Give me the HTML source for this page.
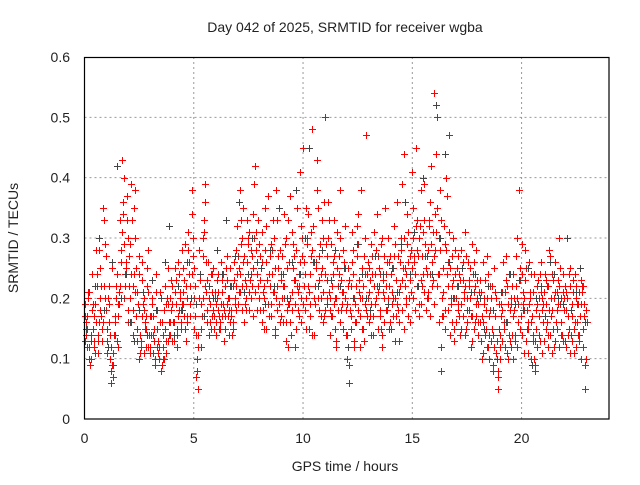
<!DOCTYPE html>
<html><head><meta charset="utf-8"><style>
body{margin:0;background:#fff}
text{font-family:"Liberation Sans",sans-serif;fill:#222}
</style></head><body>
<svg id="chart" width="640" height="480" viewBox="0 0 640 480" xmlns="http://www.w3.org/2000/svg">
<rect width="640" height="480" fill="#fff"/>
<text x="345" y="32" text-anchor="middle" font-size="14">Day 042 of 2025, SRMTID for receiver wgba</text>
<text transform="translate(18,238) rotate(-90)" text-anchor="middle" font-size="14">SRMTID / TECUs</text>
<text x="345" y="471" text-anchor="middle" font-size="14">GPS time / hours</text>
<g id="grid"></g>
<g id="ticks"></g>
<g id="marks"></g>
<rect x="84.5" y="57.5" width="524.5" height="361.5" fill="none" stroke="#000" stroke-width="1.2"/>
</svg>
<script>
const xTicks=[0,5,10,15,20];
const yTicks=[0,0.1,0.2,0.3,0.4,0.5,0.6];
const yTickLabels=["0","0.1","0.2","0.3","0.4","0.5","0.6"];
const redA=[.17,.12,.21,.10,.15,.19,.14,.25,.13,.33,.18,.22,.12,.07,.16,.24,.19,.31,.40,.26,.18,.29,.22,.38,.15,.24,.13,.20,.17,.28,.12,.20,.15,.18,.10,.08,.14,.22,.19,.16,.22,.13,.19,.26,.15,.21,.29,.17,.24,.34,.20,.14,.05,.23,.30,.36,.18,.22,.15,.25,.19,.24,.16,.21,.13,.27,.18,.22,.15,.20,.32,.38,.22,.27,.18,.30,.24,.34,.42,.26,.20,.31,.15,.26,.37,.22,.28,.14,.33,.19,.24,.16,.30,.12,.37,.21,.27,.15,.22,.32,.45,.18,.29,.24,.48,.14,.26,.35,.20,.30,.50,.23,.33,.17,.27,.12,.22,.38,.19,.25,.10,.06,.22,.28,.16,.34,.20,.25,.13,.47,.21,.29,.14,.24,.34,.18,.12,.27,.22,.30,.16,.25,.20,.36,.13,.28,.44,.19,.31,.23,.41,.27,.33,.19,.38,.24,.29,.21,.36,.26,.54,.44,.30,.08,.25,.18,.37,.47,.22,.15,.20,.27,.14,.23,.31,.18,.22,.12,.26,.19,.16,.23,.10,.19,.27,.14,.20,.08,.17,.05,.12,.21,.16,.27,.10,.19,.24,.14,.30,.38,.29,.18,.25,.11,.20,.14,.08,.22,.17,.26,.19,.23,.14,.27,.18,.12,.21,.30,.16,.24,.13,.20,.25,.17,.11,.22,.19,.23,.15,.05];
const redB=[.14,.20,.09,.18,.13,.22,.28,.17,.35,.20,.15,.10,.25,.14,.20,.12,.28,.36,.22,.33,.27,.16,.35,.25,.19,.11,.23,.16,.25,.14,.17,.11,.24,.13,.21,.16,.10,.19,.14,.23,.16,.25,.12,.20,.28,.17,.22,.31,.19,.27,.17,.10,.28,.19,.33,.21,.26,.16,.24,.20,.23,.15,.26,.19,.22,.17,.25,.14,.23,.28,.21,.29,.35,.19,.26,.31,.22,.39,.28,.33,.27,.18,.35,.23,.17,.29,.21,.38,.25,.16,.20,.34,.18,.26,.14,.29,.23,.18,.41,.27,.22,.35,.15,.31,.26,.19,.38,.23,.33,.17,.29,.36,.20,.26,.15,.31,.24,.18,.28,.14,.25,.18,.31,.12,.27,.21,.38,.15,.24,.20,.17,.24,.31,.20,.27,.15,.23,.35,.18,.26,.21,.32,.17,.27,.22,.39,.25,.34,.20,.28,.30,.45,.22,.32,.27,.39,.20,.33,.42,.23,.34,.50,.28,.20,.32,.40,.26,.19,.30,.24,.25,.17,.28,.21,.15,.26,.20,.29,.16,.23,.21,.13,.26,.18,.12,.22,.15,.25,.11,.19,.17,.26,.12,.22,.18,.14,.20,.27,.16,.23,.21,.28,.15,.19,.24,.10,.18,.23,.13,.20,.24,.16,.28,.20,.15,.26,.19,.25,.14,.20,.18,.24,.14,.21,.16,.19,.13,.22,.17,.10];
const redC=[.19,.15,.12,.24,.17,.28,.11,.20,.16,.29,.13,.19,.08,.11,.22,.17,.33,.43,.29,.37,.22,.39,.18,.30,.21,.14,.26,.18,.12,.21,.14,.17,.10,.15,.12,.09,.18,.13,.25,.20,.19,.21,.15,.24,.18,.25,.13,.28,.22,.38,.25,.08,.20,.15,.27,.39,.23,.19,.21,.17,.16,.21,.19,.24,.17,.23,.20,.18,.26,.22,.27,.24,.30,.23,.33,.21,.28,.25,.31,.22,.23,.26,.20,.32,.24,.19,.33,.25,.22,.28,.27,.22,.16,.33,.20,.25,.19,.35,.24,.20,.26,.20,.34,.19,.28,.22,.43,.27,.24,.21,.24,.30,.18,.22,.33,.20,.27,.23,.21,.32,.19,.23,.26,.20,.22,.29,.17,.22,.30,.24,.25,.19,.22,.28,.21,.24,.30,.20,.26,.22,.24,.20,.29,.18,.26,.23,.30,.24,.26,.21,.35,.24,.28,.30,.22,.33,.25,.28,.24,.31,.28,.35,.24,.33,.21,.28,.22,.25,.27,.20,.22,.24,.19,.26,.22,.20,.25,.17,.21,.28,.19,.21,.16,.23,.20,.17,.22,.12,.20,.08,.14,.18,.21,.16,.24,.20,.17,.22,.19,.25,.24,.20,.18,.26,.16,.21,.13,.19,.24,.18,.21,.19,.22,.17,.23,.21,.18,.22,.20,.18,.21,.17,.22,.19,.24,.16,.21,.19,.22,.18];
const redD=[.16,.21,.13,.19,.11,.24,.16,.22,.18,.27,.20,.14,.09,.17,.13,.21,.26,.34,.24,.30,.20,.33,.24,.17,.27,.12,.19,.15,.22,.17,.19,.13,.21,.11,.16,.10,.15,.20,.16,.18,.14,.23,.17,.21,.19,.23,.16,.26,.20,.30,.22,.12,.24,.17,.31,.26,.20,.24,.18,.21,.20,.17,.23,.18,.25,.20,.16,.22,.19,.24,.25,.33,.26,.20,.29,.23,.27,.30,.24,.29,.25,.21,.28,.19,.27,.24,.30,.20,.27,.23,.22,.29,.25,.19,.31,.23,.28,.21,.26,.30,.24,.30,.21,.27,.32,.25,.20,.29,.25,.36,.27,.21,.29,.24,.20,.25,.30,.21,.26,.18,.22,.15,.24,.19,.32,.23,.20,.27,.18,.26,.23,.27,.19,.22,.25,.29,.21,.24,.20,.27,.19,.27,.23,.21,.30,.25,.22,.29,.27,.25,.26,.32,.27,.23,.31,.27,.24,.32,.29,.27,.31,.24,.38,.17,.29,.24,.31,.20,.23,.28,.19,.23,.25,.20,.27,.23,.17,.24,.22,.20,.23,.17,.20,.15,.24,.18,.14,.21,.13,.15,.19,.15,.23,.19,.13,.22,.18,.20,.23,.17,.19,.23,.16,.21,.17,.24,.15,.20,.21,.16,.17,.22,.18,.24,.20,.16,.23,.19,.21,.22,.20,.15,.18,.23,.20,.14,.17,.21,.19,.16];
const redE=[.13,.17,.10,.14,.12,.16,.13,.18,.15,.22,.11,.16,.06,.09,.14,.19,.22,.31,.20,.25,.16,.24,.14,.21,.13,.10,.17,.11,.15,.12,.11,.14,.09,.12,.10,.08,.12,.11,.13,.14,.13,.16,.14,.18,.16,.19,.15,.20,.17,.24,.15,.07,.14,.12,.20,.22,.16,.14,.17,.15,.14,.18,.15,.17,.15,.19,.14,.17,.16,.18,.19,.21,.18,.16,.22,.18,.20,.17,.21,.18,.18,.16,.22,.15,.19,.17,.21,.15,.18,.19,.17,.20,.13,.19,.16,.18,.12,.22,.17,.16,.19,.15,.22,.17,.14,.20,.25,.18,.17,.16,.18,.20,.14,.17,.19,.13,.18,.16,.15,.20,.14,.09,.17,.13,.16,.18,.12,.15,.19,.17,.16,.14,.17,.19,.15,.17,.14,.16,.18,.15,.15,.17,.13,.19,.16,.18,.15,.20,.17,.16,.20,.18,.22,.17,.19,.21,.18,.20,.17,.22,.19,.22,.16,.12,.17,.15,.18,.14,.16,.13,.16,.18,.15,.17,.14,.16,.18,.13,.15,.17,.14,.16,.11,.14,.12,.10,.13,.09,.11,.07,.10,.13,.15,.11,.14,.12,.10,.13,.12,.15,.14,.11,.13,.15,.10,.13,.09,.12,.14,.11,.13,.15,.12,.14,.11,.13,.15,.12,.14,.13,.12,.14,.11,.13,.15,.12,.14,.10,.12,.09];
const grey=[.15,.13,.22,.30,.18,.12,.26,.42,.20,.24,.16,.13,.18,.21,.14,.23,.18,.20,.26,.32,.14,.22,.18,.26,.20,.19,.24,.17,.22,.20,.28,.24,.33,.22,.27,.36,.21,.24,.30,.26,.25,.19,.28,.22,.35,.24,.20,.26,.38,.24,.30,.45,.26,.22,.28,.19,.23,.28,.22,.25,.12,.20,.29,.24,.20,.18,.27,.22,.24,.19,.25,.21,.29,.36,.24,.31,.22,.40,.27,.24,.52,.30,.44,.26,.20,.22,.25,.18,.21,.24,.20,.15,.22,.18,.10,.21,.16,.24,.19,.23,.18,.25,.09,.20,.22,.17,.26,.24,.20,.19,.30,.18,.21,.25,.16];
const NS="http://www.w3.org/2000/svg";
const X0=84.5,X1=609,Y0=419,Y1=57,XMAX=24,YMAX=0.6;
function xs(t){return X0+(X1-X0)*t/XMAX;}
function ys(v){return Y0-(Y0-Y1)*v/YMAX;}
const grid=document.getElementById('grid'),ticks=document.getElementById('ticks'),marks=document.getElementById('marks');
xTicks.forEach(t=>{
  const x=xs(t);
  if(t>0){const l=document.createElementNS(NS,'line');
  
  
  l.setAttribute('x1',x);l.setAttribute('x2',x);l.setAttribute('y1',Y1);l.setAttribute('y2',Y0);
  l.setAttribute('stroke','#999');l.setAttribute('stroke-dasharray','2,3');grid.appendChild(l);}
  const tx=document.createElementNS(NS,'text');
  
  
  tx.setAttribute('x',x);tx.setAttribute('y',443);tx.setAttribute('text-anchor','middle');tx.setAttribute('font-size','14');
  tx.textContent=t;ticks.appendChild(tx);
});
yTicks.forEach((v,i)=>{
  const y=ys(v);
  if(v>0&&v<YMAX){const l=document.createElementNS(NS,'line');
  
  
  l.setAttribute('x1',X0);l.setAttribute('x2',X1);l.setAttribute('y1',y);l.setAttribute('y2',y);
  l.setAttribute('stroke','#999');l.setAttribute('stroke-dasharray','2,3');grid.appendChild(l);}
  const tx=document.createElementNS(NS,'text');
  
  
  tx.setAttribute('x',70);tx.setAttribute('y',y+5);tx.setAttribute('text-anchor','end');tx.setAttribute('font-size','14');
  tx.textContent=yTickLabels[i];ticks.appendChild(tx);
});
function plus(arr,step,off,color,name){
  let d='';
  arr.forEach((v,i)=>{const x=Math.round(xs(i*step+off))+0.5,y=Math.round(ys(v))+0.5;
    d+=`M${x-3.5},${y}h7M${x},${y-3.5}v7`;});
  const p=document.createElementNS(NS,'path');
  
  
  p.setAttribute('d',d);p.setAttribute('stroke',color);p.setAttribute('stroke-width','1');p.setAttribute('fill','none');
  marks.appendChild(p);
}
plus(redA,0.1,0,'#ff0000','srmtid-series-a');
plus(redB,0.1,0.05,'#ff0000','srmtid-series-b');
plus(redC,0.1,0.025,'#ff0000','srmtid-series-c');
plus(redD,0.1,0.075,'#ff0000','srmtid-series-d');
plus(redE,0.1,0.0125,'#ff0000','srmtid-series-e');
plus(grey,0.2,0.08,'#444','srmtid-grey-series');
</script>
</body></html>
